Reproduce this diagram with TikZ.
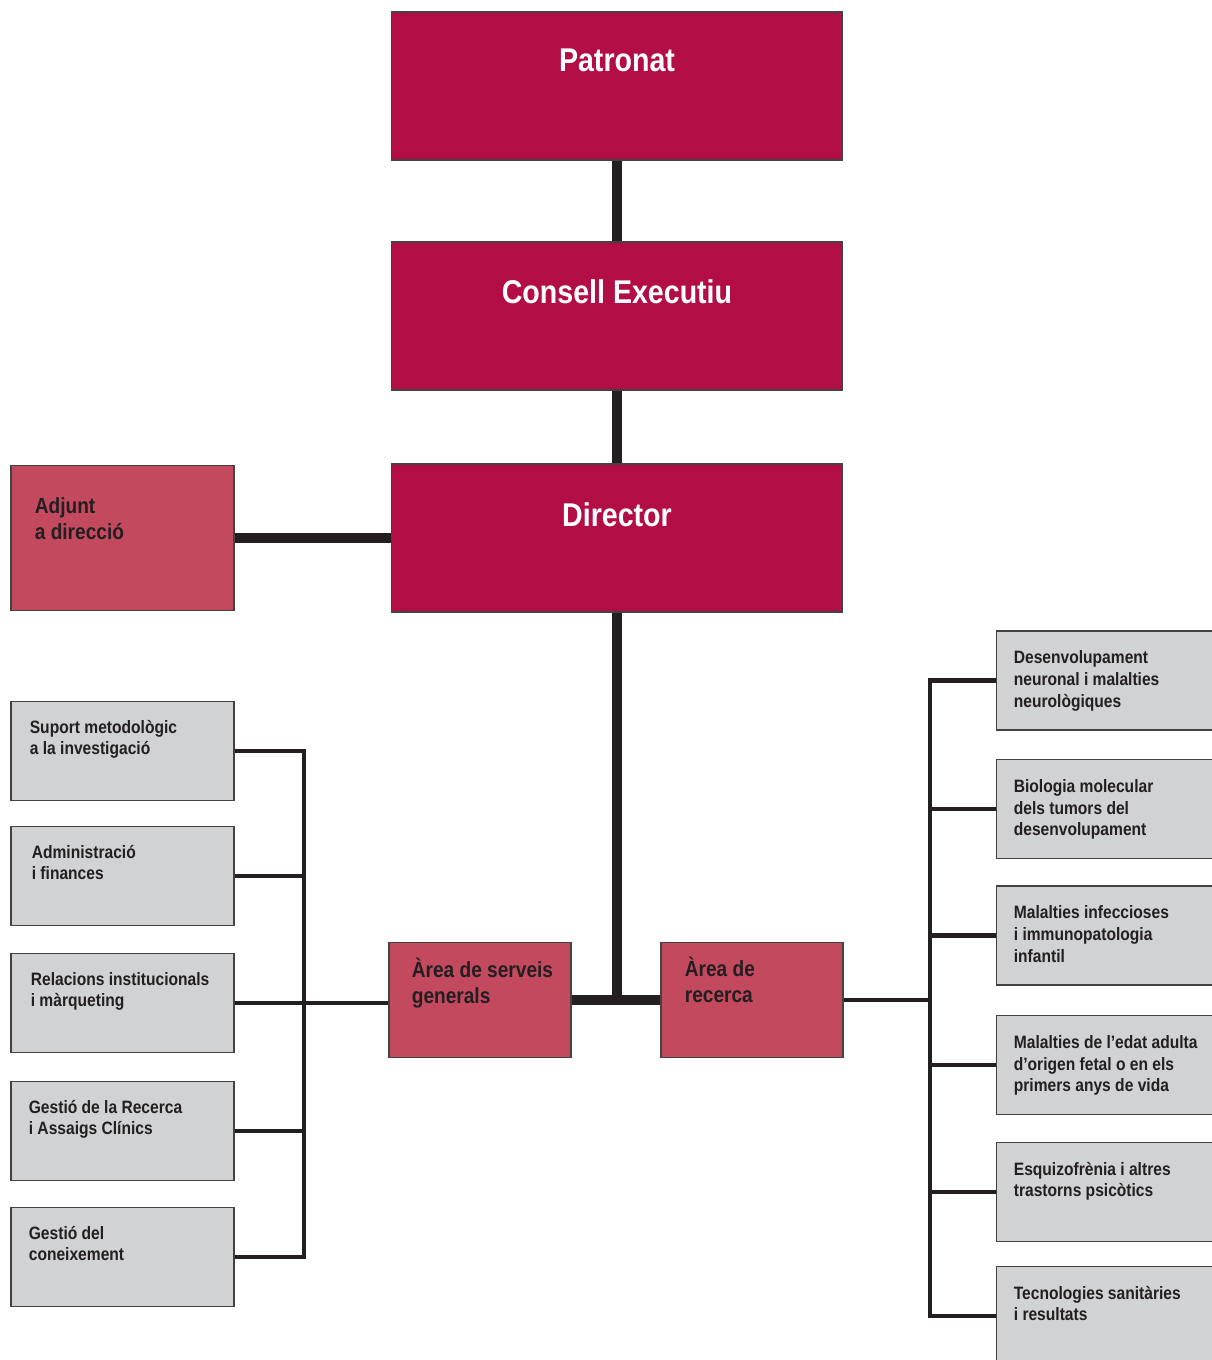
\documentclass[tikz,border=0pt]{standalone}
\usepackage{fontspec}
\setmainfont{Liberation Sans}[FakeStretch=0.87]
\usetikzlibrary{positioning}
\definecolor{crimson}{HTML}{B30D45}
\definecolor{rose}{HTML}{C34A5E}
\definecolor{panel}{HTML}{D1D2D4}
\definecolor{ink}{HTML}{231F20}

\begin{document}
\begin{tikzpicture}[x=0.02cm,y=-0.02cm,
  topbox/.style={rectangle,draw=ink!85,line width=0.6pt,fill=crimson,minimum width=9.04cm,minimum height=2.96cm,inner sep=0pt},
  sidebox/.style={rectangle,draw=ink!85,line width=0.6pt,fill=rose,minimum width=4.46cm,minimum height=2.9cm,inner sep=0pt},
  areabox/.style={rectangle,draw=ink!85,line width=0.6pt,fill=rose,minimum width=3.64cm,minimum height=2.3cm,inner sep=0pt},
  unitbox/.style={rectangle,draw=ink!85,line width=0.6pt,fill=panel,minimum width=4.46cm,minimum height=1.98cm,inner sep=0pt},
  groupbox/.style={unitbox,minimum width=4.8cm},
  title/.style={anchor=base,inner sep=0pt,text=white,font=\bfseries\fontsize{18.7}{22}\selectfont},
  areatext/.style={anchor=base west,inner sep=0pt,align=left,text=ink,font=\bfseries\fontsize{12.5}{15.3}\selectfont},
  unittext/.style={anchor=base west,inner sep=0pt,align=left,text=ink,font=\bfseries\fontsize{10.2}{12.5}\selectfont},
  trunk/.style={draw=ink,line width=5.8pt},
  branch/.style={draw=ink,line width=2.8pt}]
\useasboundingbox (0,0) rectangle (1212,1360);
\coordinate (hub) at (617,1000);
\coordinate (lbus) at (304,0);
\coordinate (rbus) at (930,0);
% top of the chart
\node[topbox] (patronat) at (617,86) {};
\node[topbox] (consell) at (617,316) {};
\node[topbox] (director) at (617,538) {};
\node[sidebox] (adjunt) at (122.5,538) {};
\node[areabox] (serveis) at (480,1000) {};
\node[areabox] (recerca) at (752,1000) {};
% services
\node[unitbox] (suport) at (122.5,751) {};
\node[unitbox] (admin) at (122.5,876) {};
\node[unitbox] (relacions) at (122.5,1003) {};
\node[unitbox] (gestio) at (122.5,1131) {};
\node[unitbox] (coneix) at (122.5,1257) {};
% research groups
\node[groupbox] (neuro) at (1116,680.5) {};
\node[groupbox] (tumors) at (1116,809) {};
\node[groupbox] (infec) at (1116,935.5) {};
\node[groupbox] (adulta) at (1116,1065) {};
\node[groupbox] (psico) at (1116,1192) {};
\node[groupbox] (tecno) at (1116,1316) {};
\draw[trunk] (patronat) -- (consell);
\draw[trunk] (consell) -- (director);
\draw[trunk] (adjunt) -- (director);
\draw[trunk] (director) -- (hub);
\draw[trunk] (serveis) -- (recerca);
\draw[branch] (relacions.east) -- (relacions.east -| serveis.west);
\draw[branch] (suport.east) -- (suport.east -| lbus) -- (coneix.east -| lbus) -- (coneix.east);
\foreach \u in {admin,gestio}
  \draw[branch] (\u.east) -- (\u.east -| lbus);
\draw[branch] (recerca.east) -- (recerca.east -| rbus);
\draw[branch] (neuro.west) -- (neuro.west -| rbus) -- (tecno.west -| rbus) -- (tecno.west);
\foreach \g in {tumors,infec,adulta,psico}
  \draw[branch] (\g.west) -- (\g.west -| rbus);
% labels (base = last line)
\path (patronat.north) ++(0,60) node[title] (patronatlabel) {Patronat};
\path (consell.north) ++(0,62) node[title] (conselllabel) {Consell Executiu};
\path (director.north) ++(0,63) node[title] (directorlabel) {Director};
\path (adjunt.north west) ++(24,75) node[areatext] (adjuntlabel) {Adjunt\\a direcció};
\path (serveis.north west) ++(23,62) node[areatext] (serveislabel) {Àrea de serveis\\generals};
\path (recerca.north west) ++(24,61) node[areatext] (recercalabel) {Àrea de\\recerca};
\path (suport.north west) ++(19,54) node[unittext] (suportlabel) {Suport metodològic\\a la investigació};
\path (admin.north west) ++(21,54) node[unittext] (adminlabel) {Administració\\i finances};
\path (relacions.north west) ++(20,54) node[unittext] (relacionslabel) {Relacions institucionals\\i màrqueting};
\path (gestio.north west) ++(18,54) node[unittext] (gestiolabel) {Gestió de la Recerca\\i Assaigs Clínics};
\path (coneix.north west) ++(18,54) node[unittext] (coneixlabel) {Gestió del\\coneixement};
\path (neuro.north west) ++(18,77) node[unittext] (neurolabel) {Desenvolupament\\neuronal i malalties\\neurològiques};
\path (tumors.north west) ++(18,77) node[unittext] (tumorslabel) {Biologia molecular\\dels tumors del\\desenvolupament};
\path (infec.north west) ++(18,77) node[unittext] (infeclabel) {Malalties infeccioses\\i immunopatologia\\infantil};
\path (adulta.north west) ++(18,77) node[unittext] (adultalabel) {Malalties de l’edat adulta\\d’origen fetal o en els\\primers anys de vida};
\path (psico.north west) ++(18,55) node[unittext] (psicolabel) {Esquizofrènia i altres\\trastorns psicòtics};
\path (tecno.north west) ++(18,55) node[unittext] (tecnolabel) {Tecnologies sanitàries\\i resultats};
\end{tikzpicture}
\end{document}
